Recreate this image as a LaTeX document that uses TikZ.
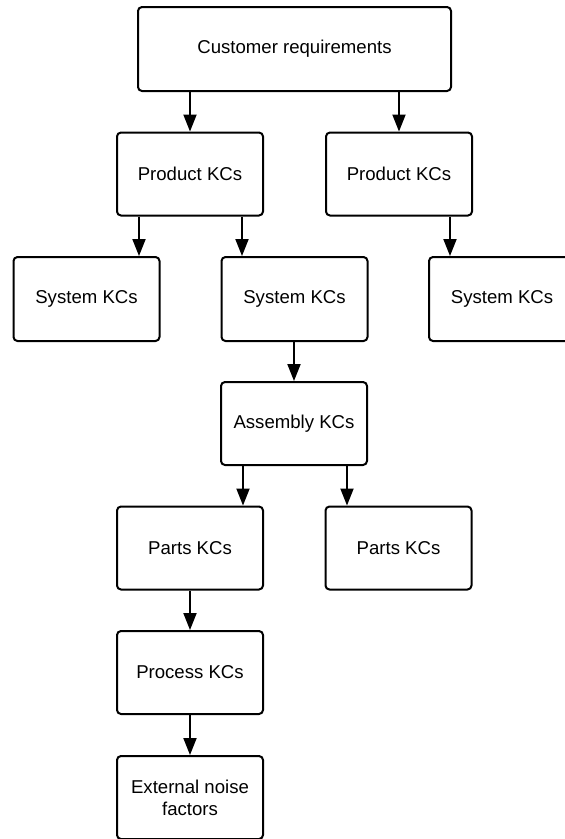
\documentclass[tikz,border=0pt]{standalone}
\usepackage{fontspec}
\setmainfont{Liberation Sans}
\usetikzlibrary{arrows.meta}

\tikzset{
  kcbox/.style={draw=black, line width=2pt, rounded corners=4pt, fill=white,
    minimum width=146pt, minimum height=83pt, inner sep=0pt, align=center,
    font=\fontsize{18.6}{22}\selectfont},
  flow/.style={line width=2pt, -{Triangle[width=13pt,length=17pt]}},
}

\begin{document}
\begin{tikzpicture}[x=1pt,y=-1pt]
  \useasboundingbox (0,0) rectangle (565,839);
  \clip (0,0) rectangle (565,839);

  % boxes
  \node[kcbox, minimum width=313pt, minimum height=84pt] (cust) at (294.5,49) {Customer requirements};
  \node[kcbox] (prodL) at (190,174) {Product KCs};
  \node[kcbox] (prodR) at (399,174) {Product KCs};
  \node[kcbox, minimum height=84pt] (sysL) at (86.5,299) {System KCs};
  \node[kcbox, minimum height=84pt] (sysM) at (294.5,299) {System KCs};
  \node[kcbox, minimum height=84pt] (sysR) at (502,299) {System KCs};
  \node[kcbox] (asm) at (294,423.5) {Assembly KCs};
  \node[kcbox] (partL) at (190,548) {Parts KCs};
  \node[kcbox] (partR) at (398.5,548) {Parts KCs};
  \node[kcbox] (proc) at (190,672.5) {Process KCs};
  \node[kcbox] (ext) at (190,797.5) {External noise\\factors};

  % connectors
  \draw[flow] (cust.south -| prodL.south) -- (prodL.north);
  \draw[flow] (cust.south -| prodR.south) -- (prodR.north);
  \draw[flow] ([xshift=-51pt]prodL.south) -- ([xshift=-51pt]prodL.south |- sysL.north);
  \draw[flow] ([xshift=52pt]prodL.south) -- ([xshift=52pt]prodL.south |- sysM.north);
  \draw[flow] ([xshift=51pt]prodR.south) -- ([xshift=51pt]prodR.south |- sysR.north);
  \draw[flow] (sysM.south -| asm.north) -- (asm.north);
  \draw[flow] ([xshift=-51pt]asm.south) -- ([xshift=-51pt]asm.south |- partL.north);
  \draw[flow] ([xshift=53pt]asm.south) -- ([xshift=53pt]asm.south |- partR.north);
  \draw[flow] (partL.south) -- (proc.north);
  \draw[flow] (proc.south) -- (ext.north);
\end{tikzpicture}
\end{document}
